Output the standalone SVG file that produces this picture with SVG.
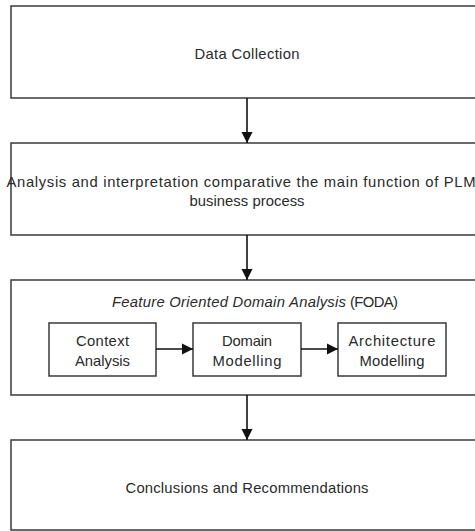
<svg xmlns="http://www.w3.org/2000/svg" width="475" height="531" viewBox="0 0 475 531">
<style>
  .box{fill:#fff;stroke:#3a3a3a;stroke-width:1.5}
  .lbl{font-family:"Liberation Sans",Arial,sans-serif;font-size:14.8px;fill:#2a2a2a;text-anchor:middle}
  .conn{stroke:#111;stroke-width:1.6;fill:none}
</style>
<defs>
  <marker id="ah" markerUnits="userSpaceOnUse" markerWidth="12" markerHeight="12" refX="11" refY="6" orient="auto">
    <path d="M0,0.5 L11,6 L0,11.5 z" fill="#111"/>
  </marker>
</defs>
<rect width="475" height="531" fill="#fff"/>
<g id="data-collection">
  <rect class="box" x="11" y="6" width="472" height="92"/>
  <text class="lbl" x="247" y="59" textLength="105">Data Collection</text>
</g>
<g id="analysis">
  <rect class="box" x="11" y="143" width="472" height="92"/>
  <text class="lbl" x="241" y="187" textLength="469">Analysis and interpretation comparative the main function of PLM</text>
  <text class="lbl" x="247" y="206" textLength="115">business process</text>
</g>
<g id="foda">
  <rect class="box" x="11" y="280" width="472" height="115"/>
  <text class="lbl" x="112" y="307" style="text-anchor:start;font-style:italic" textLength="234">Feature Oriented Domain Analysis</text>
  <text class="lbl" x="350" y="307" style="text-anchor:start" textLength="48">(FODA)</text>
</g>
<g id="context-analysis">
  <rect class="box" x="49" y="323" width="107" height="53"/>
  <text class="lbl" x="102.5" y="346" textLength="53">Context</text>
  <text class="lbl" x="102.5" y="366" textLength="55">Analysis</text>
</g>
<g id="domain-modelling">
  <rect class="box" x="193" y="323" width="108" height="53"/>
  <text class="lbl" x="247" y="346" textLength="50">Domain</text>
  <text class="lbl" x="247" y="366" textLength="69">Modelling</text>
</g>
<g id="architecture-modelling">
  <rect class="box" x="338" y="323" width="108" height="53"/>
  <text class="lbl" x="392" y="346" textLength="87">Architecture</text>
  <text class="lbl" x="392" y="366" textLength="65">Modelling</text>
</g>
<g id="conclusions">
  <rect class="box" x="11" y="440" width="472" height="90"/>
  <text class="lbl" x="247" y="493" textLength="243">Conclusions and Recommendations</text>
</g>
<g id="connectors">
  <line class="conn" x1="247" y1="98" x2="247" y2="143" marker-end="url(#ah)"/>
  <line class="conn" x1="247" y1="235" x2="247" y2="280" marker-end="url(#ah)"/>
  <line class="conn" x1="247" y1="395" x2="247" y2="440" marker-end="url(#ah)"/>
  <line class="conn" x1="156" y1="349" x2="193" y2="349" marker-end="url(#ah)"/>
  <line class="conn" x1="301" y1="349" x2="338" y2="349" marker-end="url(#ah)"/>
</g>
</svg>
